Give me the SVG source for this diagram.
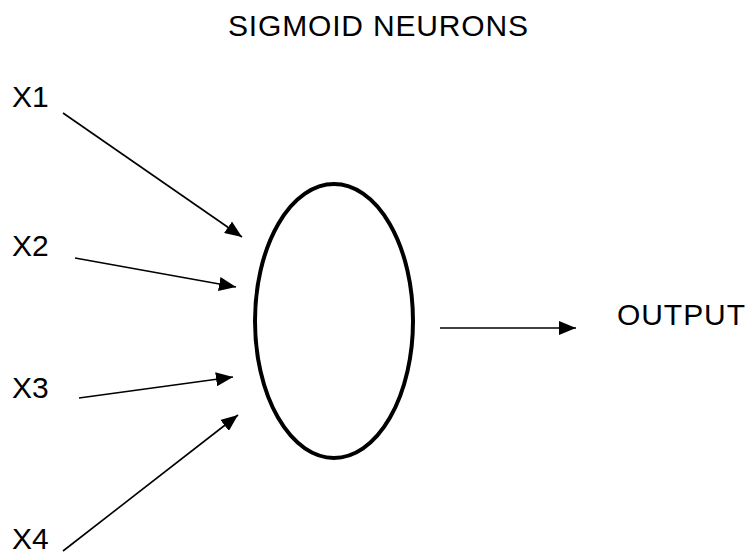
<svg xmlns="http://www.w3.org/2000/svg" width="755" height="558" viewBox="0 0 755 558">
<defs>
<style>
text{font-family:"Liberation Sans",Arial,sans-serif;font-size:30px;fill:#000}
.c{stroke:#000;stroke-width:1.6;fill:none}
</style>
<marker id="ah" markerWidth="18" markerHeight="14" refX="17" refY="7" orient="auto" markerUnits="userSpaceOnUse">
<path d="M0,0 L17,7 L0,14 Z" fill="#000"/>
</marker>
</defs>
<rect width="755" height="558" fill="#fff"/>
<g id="title"><text x="228" y="36" font-size="32" textLength="300">SIGMOID NEURONS</text></g>
<g id="x1"><text x="12" y="107">X1</text></g>
<g id="x2"><text x="12" y="256">X2</text></g>
<g id="x3"><text x="12" y="398">X3</text></g>
<g id="x4"><text x="12" y="549">X4</text></g>
<g id="neuron"><ellipse cx="334" cy="321" rx="79" ry="137" fill="none" stroke="#000" stroke-width="4"/></g>
<g id="output"><text x="617" y="325" font-size="28" textLength="128">OUTPUT</text></g>
<g id="connectors">
<line class="c" x1="63" y1="113" x2="242" y2="237" marker-end="url(#ah)"/>
<line class="c" x1="75" y1="258" x2="236" y2="287" marker-end="url(#ah)"/>
<line class="c" x1="79" y1="398" x2="233" y2="377" marker-end="url(#ah)"/>
<line class="c" x1="63" y1="551" x2="238" y2="415" marker-end="url(#ah)"/>
<line class="c" x1="440" y1="328" x2="576" y2="328" marker-end="url(#ah)"/>
</g>
</svg>
